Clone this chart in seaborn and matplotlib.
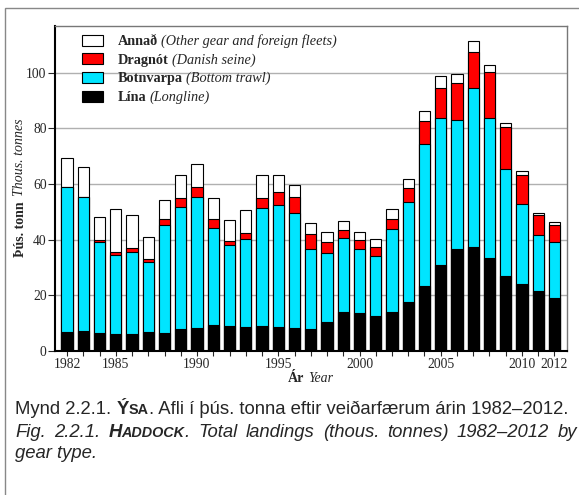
import matplotlib
matplotlib.use("Agg")
import matplotlib.pyplot as plt
import pandas as pd
import seaborn as sns
from matplotlib.patches import Patch, Rectangle
from matplotlib.transforms import IdentityTransform

# data (thous. tonnes)
years = list(range(1982, 2013))
lina = [6.7, 7.2, 6.5, 6.1, 6.1, 6.6, 6.4, 7.8, 8.2, 9.2, 8.8, 8.4, 8.9, 8.5, 8.2, 7.8,
        10.2, 13.9, 13.4, 12.4, 13.9, 17.5, 23.4, 30.9, 36.5, 37.4, 33.2, 26.9, 24.1, 21.5, 18.9]
botnvarpa = [52.1, 48.0, 32.6, 28.2, 29.6, 25.3, 38.9, 43.9, 47.0, 34.8, 29.1, 31.9, 42.4, 44.1,
             41.2, 28.9, 24.9, 26.5, 23.2, 21.8, 30.0, 36.1, 51.1, 52.9, 46.7, 57.1, 50.6, 38.6,
             28.7, 20.3, 20.1]
dragnot = [0.3, 0.3, 0.6, 1.1, 1.2, 1.1, 2.2, 3.3, 3.9, 3.4, 1.7, 1.9, 3.5, 4.4, 5.8, 5.4, 3.9,
           2.9, 3.1, 3.2, 3.6, 4.9, 8.1, 10.9, 13.0, 12.9, 16.7, 15.1, 10.3, 7.0, 6.1]
annad = [10.4, 10.5, 8.6, 15.7, 12.0, 8.1, 6.8, 8.1, 8.2, 7.4, 7.6, 8.3, 8.6, 6.1, 4.6, 3.7, 3.6,
         3.3, 3.2, 2.9, 3.5, 3.4, 3.7, 4.2, 3.3, 4.0, 2.3, 1.5, 1.6, 0.8, 1.2]

gear_names = ["Annað", "Dragnót", "Botnvarpa", "Lína"]
gear_glosses = ["(Other gear and foreign fleets)", "(Danish seine)", "(Bottom trawl)", "(Longline)"]
gear_colors = ["white", "#ff0000", "#00e5ff", "black"]
year_ticks = [1982, 1985, 1990, 1995, 2000, 2005, 2010, 2012]

df = pd.DataFrame({"year": years, "Lína": lina, "Botnvarpa": botnvarpa,
                   "Dragnót": dragnot, "Annað": annad})
# cumulative tops, drawn back to front
df["top_Lína"] = df["Lína"]
df["top_Botnvarpa"] = df["top_Lína"] + df["Botnvarpa"]
df["top_Dragnót"] = df["top_Botnvarpa"] + df["Dragnót"]
df["top_Annað"] = df["top_Dragnót"] + df["Annað"]

sns.set_style("white")
plt.rcParams["font.family"] = ["Liberation Serif", "DejaVu Serif"]

W, H = 579, 495
fig = plt.figure(figsize=(W / 100, H / 100), dpi=100)
ax = fig.add_axes([55 / W, 1 - 350.7 / H, 512 / W, 325 / H])
px = IdentityTransform()

for name, color in zip(gear_names, gear_colors):
    sns.barplot(data=df, x="year", y=f"top_{name}", native_scale=True, width=0.68,
                color=color, saturation=1, edgecolor="black", linewidth=0.8,
                errorbar=None, ax=ax, zorder=2)

ax.set_xlabel("")
ax.set_ylabel("")
ax.set_xlim(1981.26, 2012.77)
ax.set_ylim(0, 117)
ax.set_yticks([0, 20, 40, 60, 80, 100])
ax.set_xticks(year_ticks)
ax.set_xticklabels([str(y) for y in year_ticks])
ax.set_xticks(years, minor=True)
ax.yaxis.grid(True, color="#b0b0b0", linewidth=1)
ax.set_axisbelow(True)

for side in ["left", "bottom"]:
    ax.spines[side].set_color("black")
    ax.spines[side].set_linewidth(1.5)
for side in ["top", "right"]:
    ax.spines[side].set_color("#777777")
    ax.spines[side].set_linewidth(1)

ax.tick_params(axis="y", left=True, direction="out", length=5, width=0.8, pad=1, labelsize=9.8)
ax.tick_params(axis="x", which="both", bottom=True, direction="out", length=3.5, width=0.8,
               pad=1.5, labelsize=9.8)

handles = [Patch(facecolor=c, edgecolor="black", linewidth=0.8) for c in gear_colors]
leg = ax.legend(handles, gear_names, loc="upper left", bbox_to_anchor=(0.0527, 0.972),
                frameon=False, prop={"weight": "bold", "size": 10.3}, handlelength=1.45,
                handleheight=0.8, handletextpad=1.05, labelspacing=0.36, borderpad=0,
                borderaxespad=0)

fig.canvas.draw()
rend = fig.canvas.get_renderer()

# italic glosses after the bold legend names
for t, gloss in zip(leg.get_texts(), gear_glosses):
    bb = t.get_window_extent(rend)
    fig.text(bb.x1 + 3, bb.y0, gloss, transform=px, style="italic", size=10.3,
             ha="left", va="bottom")

# x label: bold Icelandic + italic English, centred under the axes
t1 = fig.text(0, H - 379, "Ár", transform=px, weight="bold", size=10, va="center")
t2 = fig.text(0, H - 379, "Year", transform=px, style="italic", size=10, va="center")
w1 = t1.get_window_extent(rend).width
w2 = t2.get_window_extent(rend).width
x0 = 311 - (w1 + 4 + w2) / 2
t1.set_x(x0)
t2.set_x(x0 + w1 + 4)

# y label, rotated
t1 = fig.text(20, 0, "Þús. tonn", transform=px, weight="bold", size=10, rotation=90,
              ha="center", va="bottom")
t2 = fig.text(20, 0, "Thous. tonnes", transform=px, style="italic", size=10, rotation=90,
              ha="center", va="bottom")
h1 = t1.get_window_extent(rend).height
h2 = t2.get_window_extent(rend).height
y0 = (H - 188) - (h1 + 5 + h2) / 2
t1.set_y(y0)
t2.set_y(y0 + h1 + 5)

sans = ["Liberation Sans", "DejaVu Sans"]


def text_row(x, y, parts, right=None, space=5.1):
    # parts: (string, joined to previous?, text kwargs); gaps are spaces,
    # stretched when a right edge is given (justified line)
    items = []
    for s, joined, kw in parts:
        t = fig.text(0, y, s, transform=px, family=sans, va="baseline", ha="left", **kw)
        items.append((t, t.get_window_extent(rend).width, joined))
    n_gaps = sum(1 for _, _, j in items[1:] if not j)
    if right is not None and n_gaps:
        space = (right - x - sum(w for _, w, _ in items)) / n_gaps
    for i, (t, w, joined) in enumerate(items):
        if i and not joined:
            x += space
        t.set_x(x)
        x += w


cap = 13.3
small = 10.4
it = {"size": cap, "style": "italic"}
text_row(15, H - 414, [
    ("Mynd 2.2.1.", False, {"size": cap}),
    ("Ý", False, {"size": cap, "weight": "bold"}),
    ("SA", True, {"size": small, "weight": "bold"}),
    (". Afli í þús. tonna eftir veiðarfærum árin 1982–2012.", True, {"size": cap}),
])
text_row(15, H - 437, [
    ("Fig.", False, it),
    ("2.2.1.", False, it),
    ("H", False, {"size": cap, "style": "italic", "weight": "bold"}),
    ("ADDOCK", True, {"size": small, "style": "italic", "weight": "bold"}),
    (".", True, it),
    ("Total", False, it),
    ("landings", False, it),
    ("(thous.", False, it),
    ("tonnes)", False, it),
    ("1982–2012", False, it),
    ("by", False, it),
], right=577)
text_row(15, H - 458, [("gear type.", False, it)])

# outer frame of the figure panel
fig.add_artist(Rectangle((5, -10), W + 20, H - 8 + 10, transform=px, fill=False,
                         edgecolor="#888888", linewidth=1))

fig.savefig("out.png", dpi=100)
